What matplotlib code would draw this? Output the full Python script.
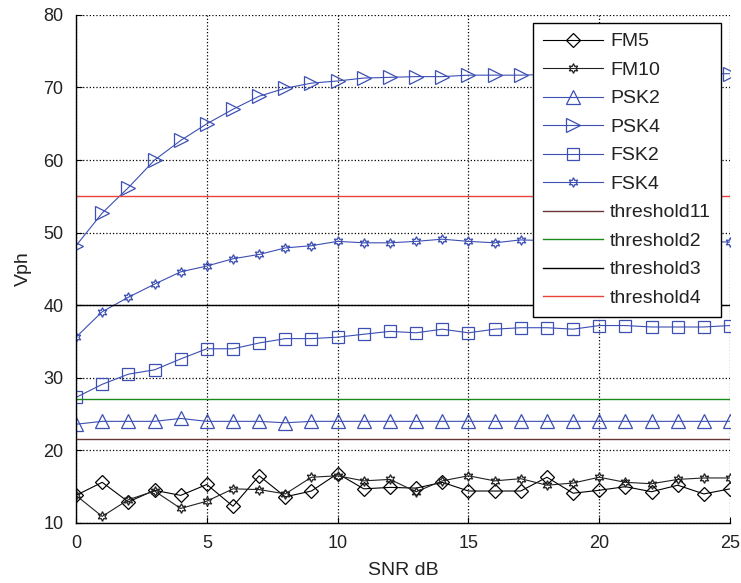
import numpy as np
import matplotlib.pyplot as plt

plt.rcParams['font.family'] = ['Liberation Sans', 'DejaVu Sans']

# SNR axis
snr = np.arange(0, 26)

# series
fm5 = [13.8, 15.6, 12.9, 14.5, 13.8, 15.3, 12.3, 16.5, 13.6, 14.4, 16.8, 14.7, 14.9,
       14.8, 15.6, 14.4, 14.4, 14.4, 16.3, 14.1, 14.5, 15.0, 14.3, 15.2, 14.0, 14.7]
fm10 = [13.8, 10.9, 13.2, 14.4, 12.0, 13.0, 14.7, 14.6, 14.0, 16.3, 16.5, 15.8, 16.0,
        14.3, 15.8, 16.5, 15.8, 16.1, 15.2, 15.5, 16.3, 15.6, 15.4, 16.0, 16.2, 16.2]
psk2 = [23.6, 24.0, 24.0, 24.0, 24.4, 24.0, 24.0, 24.0, 23.8, 24.0, 24.0, 24.0, 24.0,
        24.0, 24.0, 24.0, 24.0, 24.0, 24.0, 24.0, 24.0, 24.0, 24.0, 24.0, 24.0, 24.0]
psk4 = [48.2, 52.7, 56.2, 60.0, 62.7, 65.0, 67.0, 68.8, 69.9, 70.6, 70.9, 71.3, 71.4,
        71.5, 71.5, 71.7, 71.7, 71.7, 71.8, 71.8, 71.8, 71.8, 71.8, 71.9, 71.9, 71.9]
fsk2 = [27.3, 29.1, 30.5, 31.1, 32.6, 34.0, 34.0, 34.8, 35.4, 35.4, 35.6, 36.0, 36.4,
        36.2, 36.7, 36.2, 36.7, 36.9, 36.9, 36.7, 37.2, 37.2, 37.0, 37.0, 37.0, 37.2]
fsk4 = [35.6, 39.1, 41.1, 42.9, 44.6, 45.4, 46.4, 47.0, 47.9, 48.2, 48.8, 48.6, 48.6,
        48.8, 49.1, 48.8, 48.6, 49.0, 48.9, 48.9, 48.9, 48.8, 48.8, 48.8, 48.8, 48.7]

thresholds = [21.5, 27.1, 40.0, 55.0]
threshold_names = ['threshold11', 'threshold2', 'threshold3', 'threshold4']
threshold_colors = ['#6a3535', '#1a8a1a', 'black', '#e8443a']

blue = '#3c4fb3'
star6 = (6, 1, 0)

fig = plt.figure(figsize=(7.41, 5.83), dpi=100)
ax = fig.add_axes([0.1026, 0.103, 0.8826, 0.8714])

common = dict(lw=0.8, mew=0.9, mfc='none')
ax.plot(snr, fm5, color='black', marker='D', ms=7.5, label='FM5', **common)
ax.plot(snr, fm10, color='#222222', marker=star6, ms=7, label='FM10', **common)
ax.plot(snr, psk2, color=blue, marker='^', ms=10.5, label='PSK2', **common)
ax.plot(snr, psk4, color=blue, marker='>', ms=10.5, label='PSK4', **common)
ax.plot(snr, fsk2, color=blue, marker='s', ms=8.5, label='FSK2', **common)
ax.plot(snr, fsk4, color=blue, marker=star6, ms=7, label='FSK4', **common)

for val, name, col in zip(thresholds, threshold_names, threshold_colors):
    ax.plot([snr[0], snr[-1]], [val, val], color=col, lw=1.0, label=name)

ax.set_xlim(0, 25)
ax.set_ylim(10, 80)
ax.set_xticks(range(0, 26, 5))
ax.set_yticks(range(10, 81, 10))
ax.grid(True, linestyle=':', color='black', lw=0.9)
ax.tick_params(direction='in', labelsize=13, length=4, labelcolor='#222222')
ax.tick_params(axis='y', pad=9)
ax.tick_params(axis='x', pad=9)
for side in ['top', 'right']:
    ax.spines[side].set_visible(False)
for side in ['left', 'bottom']:
    ax.spines[side].set_linewidth(1.0)

ax.set_xlabel('SNR dB', fontsize=14, labelpad=7, color='#222222')
ax.set_ylabel('Vph', fontsize=14, labelpad=8, color='#222222')

leg = ax.legend(loc='upper right', bbox_to_anchor=(0.986, 0.984), fontsize=14,
                fancybox=False, framealpha=1, edgecolor='black',
                handlelength=3.1, handletextpad=0.36, labelspacing=0.56,
                borderpad=0.5, borderaxespad=0)
leg.get_frame().set_linewidth(1.0)
for txt in leg.get_texts():
    txt.set_color('#222222')

fig.savefig('out.png', dpi=100)
